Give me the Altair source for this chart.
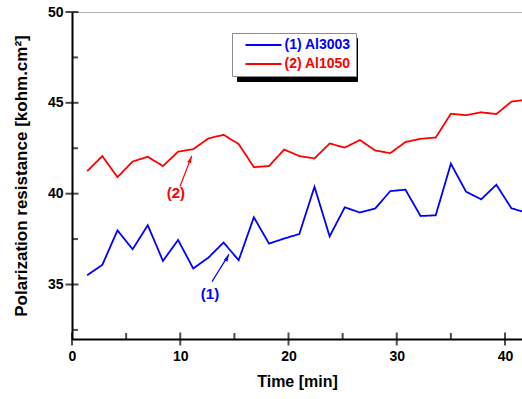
import altair as alt
import pandas as pd

# ---- data ----
time_min = [1.4, 2.8, 4.2, 5.6, 7.0, 8.4, 9.8, 11.2, 12.6, 14.0,
            15.4, 16.8, 18.2, 19.6, 21.0, 22.4, 23.8, 25.2, 26.6, 28.0,
            29.4, 30.8, 32.2, 33.6, 35.0, 36.4, 37.8, 39.2, 40.6, 42.0]
al3003 = [35.51, 36.08, 37.98, 36.94, 38.26, 36.30, 37.45, 35.88, 36.48, 37.31,
          36.34, 38.70, 37.25, 37.53, 37.78, 40.38, 37.65, 39.25, 38.96, 39.18,
          40.14, 40.22, 38.77, 38.81, 41.65, 40.11, 39.69, 40.49, 39.19, 38.96]
al1050 = [41.24, 42.07, 40.91, 41.77, 42.03, 41.52, 42.31, 42.45, 43.04, 43.24,
          42.73, 41.46, 41.52, 42.43, 42.07, 41.94, 42.76, 42.54, 42.95, 42.38,
          42.23, 42.84, 43.02, 43.09, 44.40, 44.32, 44.48, 44.38, 45.07, 45.17]
series_names = ["(1) Al3003", "(2) Al1050"]
series_colors = ["#0000ff", "#ff0000"]
shadow_keys = ["s1", "s2"]

x_major = [0, 10, 20, 30, 40]
x_minor = [5, 15, 25, 35]
y_major = [35, 40, 45, 50]
y_minor = [32.5, 37.5, 42.5, 47.5]

ann_text = ["(2)", "(1)"]
ann_x = [9.6, 12.75]
ann_y = [40.05, 34.48]
arrow_x1 = [9.98, 12.93]
arrow_y1 = [40.39, 35.16]
arrow_x2 = [11.06, 14.5]
arrow_y2 = [42.08, 36.66]
arrow_angle = [21, 27]

FONT = "Liberation Sans"

n = len(time_min)
df = pd.DataFrame({
    "t": time_min * 2,
    "v": al3003 + al1050,
    "series": [series_names[0]] * n + [series_names[1]] * n,
    "shadow": [shadow_keys[0]] * n + [shadow_keys[1]] * n,
})

x_scale = alt.Scale(domain=[0, 41.57], nice=False, zero=False)
y_scale = alt.Scale(domain=[32, 50], nice=False, zero=False)

axis_common = dict(
    domainColor="black", domainWidth=2, ticks=False, grid=False,
    labelFont=FONT, labelFontSize=14, labelFontWeight="bold", labelColor="black",
    titleFont=FONT, titleFontWeight="bold", titleColor="black",
    labelFlush=False,
)

LINE_PATH = "M-4,0H4"
legend_common = dict(
    title=None, orient="none", direction="vertical",
    padding=5, rowPadding=5, symbolType=LINE_PATH, symbolSize=81,
    symbolStrokeWidth=2, symbolOffset=19.5,
    labelFont=FONT, labelFontSize=14, labelFontWeight="bold",
)

lines = alt.Chart(df).mark_line(strokeWidth=1.8, clip=True).encode(
    x=alt.X("t:Q", scale=x_scale,
            axis=alt.Axis(values=x_major, title="Time [min]", labelPadding=10,
                          titlePadding=10, titleFontSize=16, format="d", **axis_common)),
    y=alt.Y("v:Q", scale=y_scale,
            axis=alt.Axis(values=y_major, title="Polarization resistance [kohm.cm²]",
                          labelPadding=9, titlePadding=17, titleFontSize=17,
                          format="d", **axis_common)),
    color=alt.Color("series:N",
                    scale=alt.Scale(domain=series_names, range=series_colors),
                    legend=alt.Legend(
                        legendX=160, legendY=21, fillColor="white", strokeColor="#8c8c8c",
                        labelOffset=14,
                        labelColor=alt.ExprRef(expr="datum.label == '(1) Al3003' ? '#0000ff' : '#ff0000'"),
                        zindex=2, **legend_common)),
    strokeDash=alt.StrokeDash("shadow:N",
                              scale=alt.Scale(domain=shadow_keys, range=[[1, 0], [1, 0]]),
                              legend=alt.Legend(
                                  legendX=165, legendY=26, fillColor="black", strokeColor="black",
                                  symbolStrokeColor="black", labelColor="black",
                                  labelOffset=76.2, labelExpr="' '",
                                  zindex=1, **legend_common)),
)

ymaj = alt.Chart(pd.DataFrame({"v": y_major})).mark_tick(
    orient="horizontal", size=13, thickness=2, color="black").encode(
    x=alt.datum(0), y=alt.Y("v:Q"))
ymin = alt.Chart(pd.DataFrame({"v": y_minor})).mark_tick(
    orient="horizontal", size=6, thickness=2, color="black", xOffset=3).encode(
    x=alt.datum(0), y=alt.Y("v:Q"))
xmaj = alt.Chart(pd.DataFrame({"t": x_major})).mark_tick(
    orient="vertical", size=13, thickness=2, color="black").encode(
    x=alt.X("t:Q"), y=alt.datum(32))
xmin = alt.Chart(pd.DataFrame({"t": x_minor})).mark_tick(
    orient="vertical", size=6, thickness=2, color="black", yOffset=-3).encode(
    x=alt.X("t:Q"), y=alt.datum(32))

ann_df = pd.DataFrame({
    "text": ann_text, "x": ann_x, "y": ann_y,
    "x1": arrow_x1, "y1": arrow_y1, "x2": arrow_x2, "y2": arrow_y2,
    "angle": arrow_angle, "c": ["#ff0000", "#0000ff"],
})
ann_texts = alt.Chart(ann_df).mark_text(
    font=FONT, fontSize=15, fontWeight="bold").encode(
    x="x:Q", y="y:Q", text="text:N", color=alt.Color("c:N", scale=None, legend=None))
arrows = alt.Chart(ann_df).mark_rule(strokeWidth=1.2).encode(
    x="x1:Q", y="y1:Q", x2="x2:Q", y2="y2:Q",
    color=alt.Color("c:N", scale=None, legend=None))
heads = alt.Chart(ann_df).mark_point(
    shape="M0,0 L0.45,1.6 L-0.45,1.6 Z", size=81, filled=True, opacity=1).encode(
    x="x2:Q", y="y2:Q", angle=alt.Angle("angle:Q", scale=None),
    color=alt.Color("c:N", scale=None, legend=None))

chart = alt.layer(lines, ymaj, ymin, xmaj, xmin, arrows, heads, ann_texts).properties(
    width=450, height=327,
    autosize=alt.AutoSizeParams(type="none"),
    padding={"left": 72, "top": 12, "right": 0, "bottom": 60},
    background="white",
).configure_view(stroke="#b0b0b0", strokeWidth=1)

chart.save("out.html", embed_options={"renderer": "svg", "actions": False})
